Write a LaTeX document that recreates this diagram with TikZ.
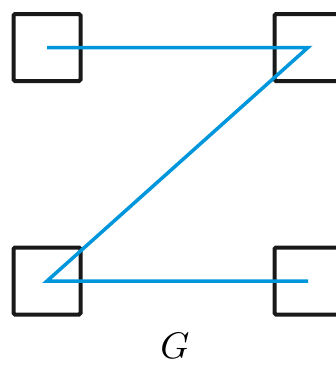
\documentclass[tikz,border=0pt]{standalone}
\definecolor{zblue}{RGB}{0,150,219}
\tikzset{cell/.style={draw=black!90,line width=4pt,rounded corners=1.5pt,minimum size=67pt,inner sep=0pt}}
\begin{document}
\begin{tikzpicture}[x=1pt,y=-1pt]
\useasboundingbox (0,0) rectangle (335,375);
\node[cell] (tl) at (47,47.5) {};
\node[cell] (tr) at (308,47.5) {};
\node[cell] (bl) at (47,281) {};
\node[cell] (br) at (308,281) {};
\draw[zblue,line width=3.5pt,line join=miter] (tl.center)--(tr.center)--(bl.center)--(br.center);
\node[scale=3.7] (g) at (175,346) {$G$};
\end{tikzpicture}
\end{document}
